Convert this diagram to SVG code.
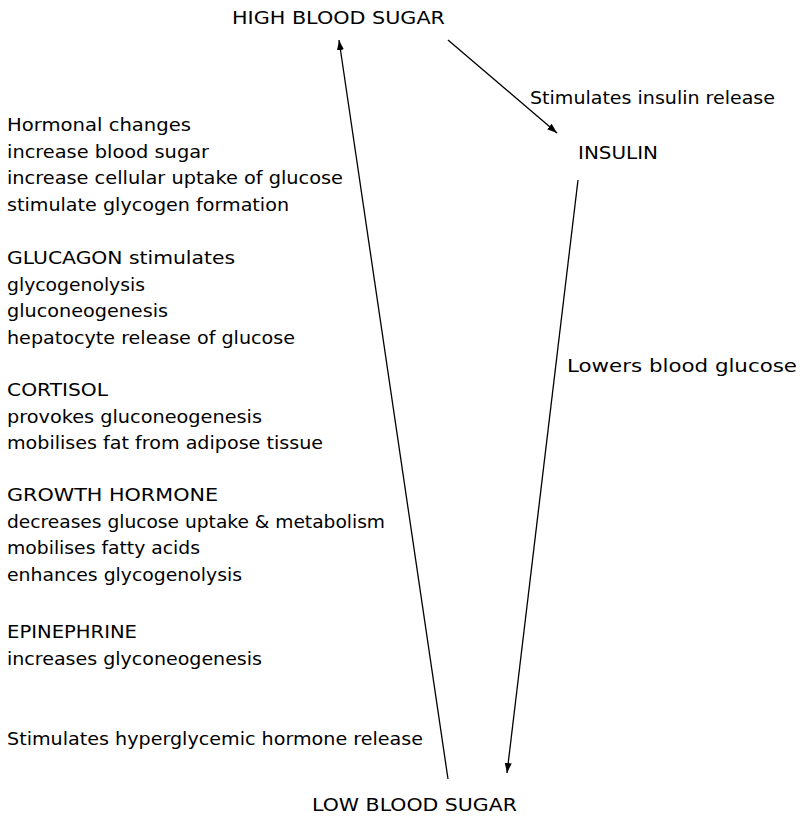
<svg xmlns="http://www.w3.org/2000/svg" width="800" height="818" viewBox="0 0 800 818">
<style>
text{font-family:"DejaVu Sans","Liberation Sans",sans-serif;font-size:18px;fill:#000}
.c{stroke:#000;stroke-width:1.3;fill:none;marker-end:url(#ah)}
</style>
<defs>
<marker id="ah" viewBox="0 0 10 10" refX="10" refY="5" markerWidth="10" markerHeight="10" markerUnits="userSpaceOnUse" orient="auto">
<path d="M0,1.5 L10,5 L0,8.5 Z" fill="#000"/>
</marker>
</defs>
<rect width="800" height="818" fill="#fff"/>
<g id="connectors">
<line class="c" x1="448" y1="40" x2="557" y2="133"/>
<line class="c" x1="578" y1="180" x2="507" y2="773"/>
<line class="c" x1="448" y1="779" x2="339" y2="40"/>
</g>
<g id="high"><text x="232" y="24" textLength="213" lengthAdjust="spacingAndGlyphs">HIGH BLOOD SUGAR</text></g>
<g id="insulin"><text x="578" y="159" textLength="80" lengthAdjust="spacingAndGlyphs">INSULIN</text></g>
<g id="low"><text x="312" y="811" textLength="205" lengthAdjust="spacingAndGlyphs">LOW BLOOD SUGAR</text></g>
<g id="labels">
<text x="530" y="104" textLength="245" lengthAdjust="spacingAndGlyphs">Stimulates insulin release</text>
<text x="567" y="372" textLength="230" lengthAdjust="spacingAndGlyphs">Lowers blood glucose</text>
<text x="7" y="745" textLength="416" lengthAdjust="spacingAndGlyphs">Stimulates hyperglycemic hormone release</text>
</g>
<g id="hormones">
<text x="7" y="131" textLength="184" lengthAdjust="spacingAndGlyphs">Hormonal changes</text>
<text x="7" y="157.5" textLength="202" lengthAdjust="spacingAndGlyphs">increase blood sugar</text>
<text x="7" y="184" textLength="336" lengthAdjust="spacingAndGlyphs">increase cellular uptake of glucose</text>
<text x="7" y="210.5" textLength="282" lengthAdjust="spacingAndGlyphs">stimulate glycogen formation</text>
<text x="7" y="264" textLength="228" lengthAdjust="spacingAndGlyphs">GLUCAGON stimulates</text>
<text x="7" y="290.5" textLength="138" lengthAdjust="spacingAndGlyphs">glycogenolysis</text>
<text x="7" y="317" textLength="161" lengthAdjust="spacingAndGlyphs">gluconeogenesis</text>
<text x="7" y="343.5" textLength="288" lengthAdjust="spacingAndGlyphs">hepatocyte release of glucose</text>
<text x="7" y="396" textLength="101" lengthAdjust="spacingAndGlyphs">CORTISOL</text>
<text x="7" y="422.5" textLength="255" lengthAdjust="spacingAndGlyphs">provokes gluconeogenesis</text>
<text x="7" y="449" textLength="316" lengthAdjust="spacingAndGlyphs">mobilises fat from adipose tissue</text>
<text x="7" y="501" textLength="211" lengthAdjust="spacingAndGlyphs">GROWTH HORMONE</text>
<text x="7" y="527.5" textLength="378" lengthAdjust="spacingAndGlyphs">decreases glucose uptake &amp; metabolism</text>
<text x="7" y="554" textLength="193" lengthAdjust="spacingAndGlyphs">mobilises fatty acids</text>
<text x="7" y="580.5" textLength="235" lengthAdjust="spacingAndGlyphs">enhances glycogenolysis</text>
<text x="7" y="638" textLength="130" lengthAdjust="spacingAndGlyphs">EPINEPHRINE</text>
<text x="7" y="664.5" textLength="255" lengthAdjust="spacingAndGlyphs">increases glyconeogenesis</text>
</g>
</svg>
